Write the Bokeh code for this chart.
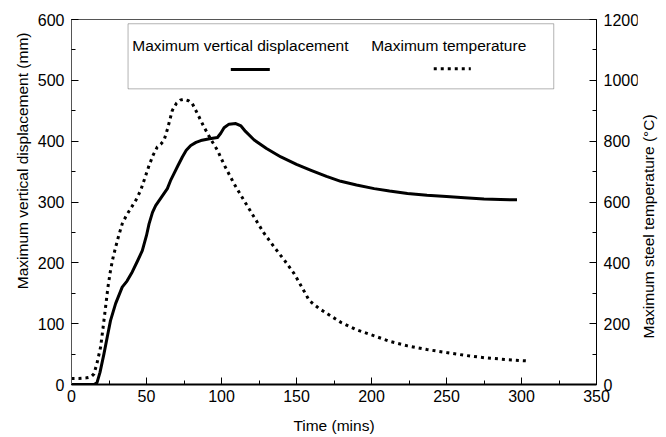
import math
from bokeh.plotting import figure
from bokeh.models import (Range1d, LinearAxis, SingleIntervalTicker, BoxAnnotation, Label,
                          Arrow, Title, Plot)
from bokeh.layouts import row
from bokeh.embed import file_html
from bokeh.resources import INLINE

# ---- data ----
time_disp = [0, 10, 15, 17, 19, 21.6, 24, 26, 29.4, 33.8, 37, 40.5, 44, 47.2, 50, 51.7, 54, 56.1,
             60, 63.9, 66, 68.4, 71, 73.9, 76.5, 79.5, 83, 86.2, 92, 97.3, 99.5, 101.7, 105, 109.5,
             113, 116, 121.8, 130, 139.6, 150, 159.7, 170, 179.5, 190, 201.8, 212, 224, 237, 250,
             262, 275, 286, 297]
displacement = [0, 0, 0, 3, 20, 50, 80, 105, 133, 160, 170, 185, 203, 220, 245, 264, 283, 294,
                308, 322, 335, 347, 360, 374, 385, 393, 398, 401, 404, 406, 413, 422, 428, 429,
                425, 416, 402, 388, 374, 362, 352, 342, 334, 328, 322, 318, 314, 311, 309,
                307, 305, 304, 303.5]

time_temp = [0, 5, 10, 13, 15, 17, 19.4, 21, 22.7, 24.3, 26, 27.6, 29.4, 31.5, 33.8, 36.5, 39.4,
             42.8, 46.1, 49, 51.7, 54.5, 57.2, 59.5, 61.7, 64, 67.2, 70, 72.5, 75, 78, 80.6, 84,
             88.4, 93, 97.3, 102, 108.4, 115, 121.8, 128, 135.1, 142, 148.5, 153, 158.5, 165,
             170.8, 180, 190, 201.8, 212, 224, 237, 250, 262, 275, 290, 305]
temperature = [20, 20, 22, 25, 35, 70, 123, 185, 254, 320, 375, 415, 451, 490, 528, 555, 578,
               605, 638, 680, 720, 755, 781, 790, 803, 840, 901, 925, 935, 938, 933, 923, 890,
               846, 805, 770, 720, 660, 605, 550, 500, 452, 408, 364, 325, 276, 250,
               232, 203, 180, 160, 142, 127, 115, 105, 96, 88, 82, 77]

series_names = ["Maximum vertical displacement", "Maximum temperature"]
x_title = "Time (mins)"
y_title_left = "Maximum vertical displacement (mm)"
y_title_right = "Maximum steel temperature (°C)"

FONT = "Arial"

p = figure(frame_width=525, frame_height=365,
           x_range=Range1d(0, 350), y_range=Range1d(0, 600),
           output_backend="svg", toolbar_location=None,
           min_border_left=71, min_border_top=19, min_border_right=44, min_border_bottom=53,
           background_fill_color="white", border_fill_color="white")
p.extra_y_ranges = {"temp": Range1d(0, 1200)}
p.xgrid.visible = False
p.ygrid.visible = False
p.outline_line_color = "#555555"
p.outline_line_width = 1

p.line(time_disp, displacement, line_color="black", line_width=3, line_join="round")
p.line(time_temp, temperature, y_range_name="temp", line_color="black", line_width=3,
       line_dash="3 4")

right_axis = LinearAxis(y_range_name="temp")
p.add_layout(right_axis, "right")

p.xaxis.ticker = SingleIntervalTicker(interval=50, num_minor_ticks=2)
p.yaxis[0].ticker = SingleIntervalTicker(interval=100, num_minor_ticks=2)
right_axis.ticker = SingleIntervalTicker(interval=200, num_minor_ticks=2)

p.xaxis.axis_label = x_title

for ax in [p.xaxis[0], p.yaxis[0], right_axis]:
    ax.major_tick_in = 7
    ax.major_tick_out = 0
    ax.minor_tick_in = 4
    ax.minor_tick_out = 0
    ax.major_label_text_font = FONT
    ax.major_label_text_font_size = "16px"
    ax.major_label_text_color = "black"
    ax.axis_label_text_font = FONT
    ax.axis_label_text_font_size = "15.5px"
    ax.axis_label_text_font_style = "normal"
    ax.axis_label_text_color = "black"
    ax.axis_line_color = "black"
    ax.major_tick_line_color = "black"
    ax.minor_tick_line_color = "black"
    ax.major_label_standoff = 7

p.xaxis[0].axis_line_width = 2
p.xaxis[0].major_label_standoff = 5
p.xaxis[0].axis_label_standoff = 12
p.yaxis[0].axis_line_color = "#555555"

# left title: placed in the left side panel, ending near the top of the frame
p.add_layout(Title(text=y_title_left, align="right", offset=13, standoff=8,
                   text_font=FONT, text_font_size="15.5px", text_font_style="normal",
                   text_color="black"), "left")

# ---- legend (label above sample line) ----
p.add_layout(BoxAnnotation(left=37.7, right=321.5, bottom=486, top=593,
                           fill_color="white", fill_alpha=1, line_color="black", line_width=1))
p.add_layout(Label(x=40.5, y=557, text=series_names[0], text_baseline="middle",
                   text_font=FONT, text_font_size="15.5px", text_color="black"))
p.add_layout(Label(x=199.8, y=557, text=series_names[1], text_baseline="middle",
                   text_font=FONT, text_font_size="15.5px", text_color="black"))
p.add_layout(Arrow(end=None, x_start=106.2, y_start=518, x_end=132.2, y_end=518,
                   line_color="black", line_width=3))
p.add_layout(Arrow(end=None, x_start=241.5, y_start=519, x_end=266.2, y_end=519,
                   line_color="black", line_width=3, line_dash="3 4"))

# ---- right-hand title (reads bottom-to-top), held in a narrow companion plot ----
p2 = Plot(frame_width=6, frame_height=365, min_border_left=19, min_border_right=1,
          min_border_top=19, min_border_bottom=53, outline_line_color=None,
          toolbar_location=None, output_backend="svg",
          background_fill_color="white", border_fill_color="white",
          margin=(0, 0, 0, -5))
p2.add_layout(Title(text=y_title_right, align="left", offset=46, standoff=0,
                    text_font=FONT, text_font_size="15.5px", text_font_style="normal",
                    text_color="black"), "left")

open("out.html", "w").write(file_html(row(p, p2), INLINE))
